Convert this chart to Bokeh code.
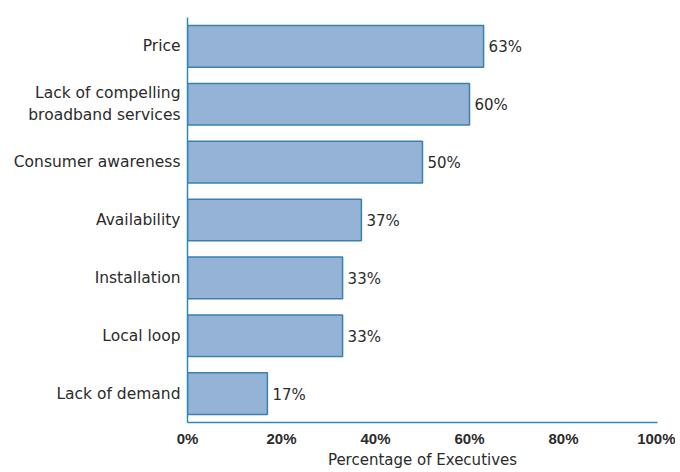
from bokeh.plotting import figure
from bokeh.models import FactorRange, Range1d, FixedTicker, CustomJSTickFormatter, ColumnDataSource
from bokeh.core.properties import value
from bokeh.embed import file_html
from bokeh.resources import INLINE

categories = [
    "Price",
    "Lack of compelling\nbroadband services",
    "Consumer awareness",
    "Availability",
    "Installation",
    "Local loop",
    "Lack of demand",
]
values = [63, 60, 50, 37, 33, 33, 17]
x_ticks = [0, 20, 40, 60, 80, 100]
x_title = "Percentage of Executives"

labels = [f"{v}%" for v in values]
src = ColumnDataSource(dict(cat=categories, val=values, lab=labels))

p = figure(
    width=675, height=472,
    y_range=FactorRange(factors=list(reversed(categories)), range_padding=0),
    x_range=Range1d(0, 100),
    output_backend="svg", toolbar_location=None,
    min_border_left=187, min_border_right=18, min_border_top=17, min_border_bottom=50,
)
p.outline_line_color = None
p.grid.grid_line_color = None
p.background_fill_color = "white"

p.hbar(y="cat", right="val", left=0, height=0.72, source=src,
       fill_color="#95b3d7", line_color="#3a82ad", line_width=1.5)

p.text(x="val", y="cat", text="lab", source=src, x_offset=5, y_offset=1,
       text_baseline="middle", text_align="left",
       text_font=value("DejaVu Sans"), text_font_size="15px", text_color="#2b2b2b")

axis_color = "#2f8ab3"
p.xaxis.ticker = FixedTicker(ticks=x_ticks)
p.xaxis.formatter = CustomJSTickFormatter(code="return tick + '%';")
p.xaxis.axis_label = x_title
p.xaxis.axis_label_text_font = "DejaVu Sans"
p.xaxis.axis_label_text_font_style = "normal"
p.xaxis.axis_label_text_font_size = "15px"
p.xaxis.axis_label_text_color = "#2b2b2b"
p.xaxis.axis_label_standoff = 1
p.xaxis.major_label_text_font = "Liberation Sans"
p.xaxis.major_label_text_font_style = "bold"
p.xaxis.major_label_text_font_size = "15px"
p.xaxis.major_label_text_color = "#2b2b2b"
p.xaxis.major_label_standoff = 7
p.xaxis.major_tick_line_color = None
p.xaxis.minor_tick_line_color = None
p.xaxis.major_tick_out = 0
p.xaxis.major_tick_in = 0

p.yaxis.major_label_text_font = "DejaVu Sans"
p.yaxis.major_label_text_font_size = "15.5px"
p.yaxis.major_label_text_color = "#2b2b2b"
p.yaxis.major_label_standoff = 7
p.yaxis.major_tick_line_color = None
p.yaxis.major_tick_out = 0
p.yaxis.major_tick_in = 0

for ax in (p.xaxis, p.yaxis):
    ax.axis_line_color = axis_color
    ax.axis_line_width = 1.5

open("out.html", "w").write(file_html(p, INLINE))
